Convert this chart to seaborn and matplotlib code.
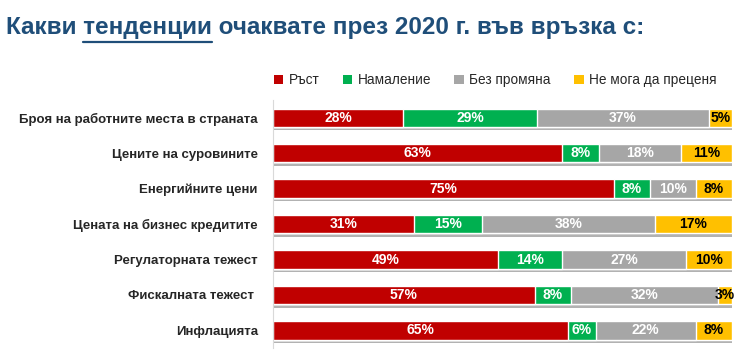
import numpy as np
import pandas as pd
import matplotlib
matplotlib.use("Agg")
import matplotlib.pyplot as plt
import matplotlib.patheffects as pe
from matplotlib.patches import Patch
import seaborn as sns

# Data
categories = [
    "Броя на работните места в страната",
    "Цените на суровините",
    "Енергийните цени",
    "Цената на бизнес кредитите",
    "Регулаторната тежест",
    "Фискалната тежест ",
    "Инфлацията",
]
series_names = ["Ръст", "Намаление", "Без промяна", "Не мога да преценя"]
growth = [28, 63, 75, 31, 49, 57, 65]
decrease = [29, 8, 8, 15, 14, 8, 6]
no_change = [37, 18, 10, 38, 27, 32, 22]
cant_say = [5, 11, 8, 17, 10, 3, 8]

colors = ["#C00000", "#00B050", "#A6A6A6", "#FFC000"]
text_colors = ["white", "white", "white", "black"]
TITLE_COLOR = "#1F4E79"

sns.set_style("white")
plt.rcParams["font.family"] = ["Liberation Sans", "DejaVu Sans"]

df = pd.DataFrame({
    "category": categories,
    series_names[0]: growth,
    series_names[1]: decrease,
    series_names[2]: no_change,
    series_names[3]: cant_say,
})
vals = df[series_names].to_numpy(dtype=float)
# 100% stacked: every bar ends at the same edge
shares = vals / vals.sum(axis=1, keepdims=True) * 100
cum = np.cumsum(shares, axis=1)

fig = plt.figure(figsize=(7.4, 3.56), dpi=100)
ax = fig.add_axes([0.369, 0.022, 0.620, 0.697])

# draw cumulative layers, widest first, so the segments stack
for i in range(len(series_names) - 1, -1, -1):
    sns.barplot(x=cum[:, i], y=df["category"], color=colors[i], orient="h",
                width=0.52, saturation=1, ax=ax)
    if i == len(series_names) - 1:
        for bar in ax.patches:
            bar.set_path_effects([
                pe.SimplePatchShadow(offset=(1, -2.5), shadow_rgbFace="#7F7F7F", alpha=0.6),
                pe.Normal(),
            ])

for i in range(len(series_names)):
    left = cum[:, i] - shares[:, i]
    for row in range(len(categories)):
        ax.text(left[row] + shares[row, i] / 2, row, f"{int(vals[row, i])}%",
                ha="center", va="center", color=text_colors[i],
                fontsize=10, fontweight="bold")

ax.set_xlim(0, 100)
ax.set_ylim(len(categories) - 0.5, -0.5)
ax.set_xlabel("")
ax.set_ylabel("")
ax.set_xticks([])
ax.tick_params(axis="y", length=0, pad=11)
for lab in ax.get_yticklabels():
    lab.set_fontweight("bold")
    lab.set_fontsize(9.5)
for side in ["top", "right", "bottom"]:
    ax.spines[side].set_visible(False)
ax.spines["left"].set_color("#D9D9D9")
ax.spines["left"].set_linewidth(0.8)

# legend
handles = [Patch(facecolor=c, edgecolor="none") for c in colors]
fig.legend(handles, series_names, loc="center right", bbox_to_anchor=(0.985, 0.775),
           ncol=4, frameon=False, fontsize=9.8, handlelength=0.7, handleheight=0.7,
           handletextpad=0.4, columnspacing=1.7)

# title with underlined word
title_kw = dict(fontsize=17.5, fontweight="bold", color=TITLE_COLOR, va="baseline")
tx, ty = 0.008, 0.905
fig.text(tx, ty, "Какви тенденции очаквате през 2020 г. във връзка с:", **title_kw)
fig.canvas.draw()
renderer = fig.canvas.get_renderer()
def text_width(s):
    t = fig.text(0, 0, s, **title_kw)
    w = t.get_window_extent(renderer).width
    t.remove()
    return w / fig.bbox.width
x_end = tx + text_width("Какви тенденции")
x_start = x_end - text_width("тенденции")
fig.add_artist(plt.Line2D([x_start, x_end], [ty - 0.022, ty - 0.022],
                          color=TITLE_COLOR, linewidth=1.6))

fig.savefig("out.png", dpi=100)
